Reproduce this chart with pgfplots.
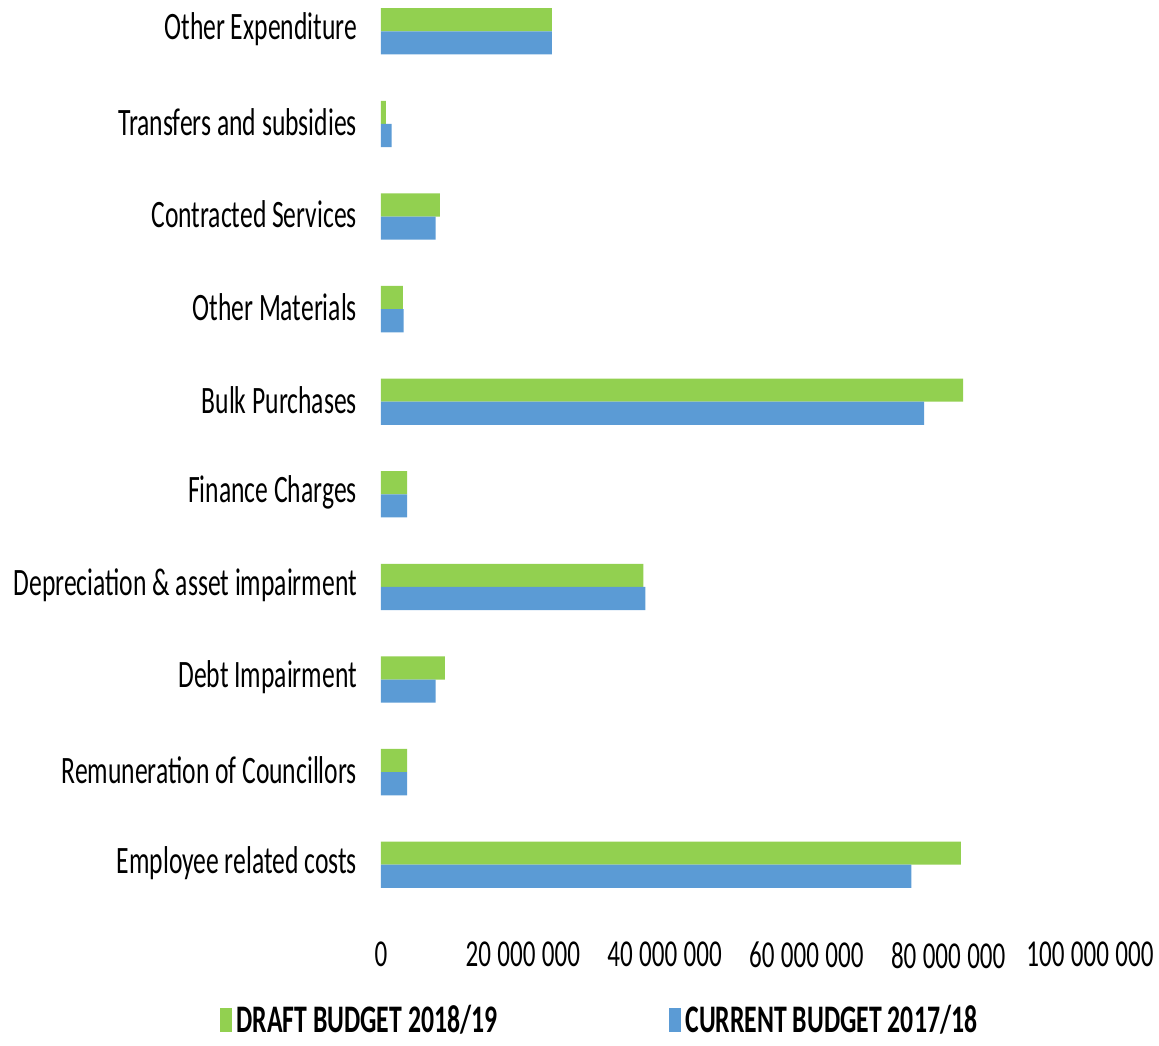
\documentclass[border=0pt]{standalone}
\usepackage{fontspec}
\setmainfont{Carlito}[FakeStretch=0.66]
\usepackage{pgfplots}
\pgfplotsset{compat=1.18}
\definecolor{draftgreen}{HTML}{92D050}
\definecolor{curblue}{HTML}{5B9BD5}
\begin{document}
\begin{tikzpicture}
\useasboundingbox (-190.5pt,-67pt) rectangle (389pt,455.5pt);
\begin{axis}[
  scale only axis, width=354.5pt, height=453.5pt,
  at={(0,0)}, anchor=south west,
  xmin=0, xmax=100000000, ymin=-0.5, ymax=9.295,
  axis line style={draw=none}, tick style={draw=none},
  xtick={0,20000000,40000000,60000000,80000000,100000000},
  scaled x ticks=false,
  /pgf/number format/fixed, /pgf/number format/precision=0,
  /pgf/number format/1000 sep={\,},
  /pgf/number format/assume math mode=true,
  x tick label style={font=\fontsize{19}{22}\selectfont, yshift=-12pt},
  ytick={0,1,2,3,4,5,6,7,8,9},
  yticklabels={Employee related costs, Remuneration of Councillors, Debt Impairment, Depreciation \& asset impairment, Finance Charges, Bulk Purchases, Other Materials, Contracted Services, Transfers and subsidies, Other Expenditure},
  y tick label style={font=\fontsize{19.4}{22}\selectfont, anchor=east, xshift=-8.5pt, yshift=1pt},
  legend columns=2,
  legend style={at={(axis description cs:-0.227,-0.120)}, anchor=west, draw=none, fill=none, inner sep=0pt,
    nodes={inner ysep=0.5pt},
    font=\fontsize{19.5}{22}\selectfont\bfseries,
    /tikz/every even column/.append style={column sep=84pt}},
  legend image code/.code={\fill[#1] (0pt,-6pt) rectangle (6pt,6pt);},
]
\addplot[xbar, bar width=0.25, bar shift=0.125, fill=draftgreen, draw=none] coordinates {
 (81800000,0) (3700000,1) (9000000,2) (37000000,3) (3700000,4) (82100000,5) (3100000,6) (8300000,7) (700000,8) (24100000,9)};
\addlegendentry{DRAFT BUDGET 2018/19}
\addplot[xbar, bar width=0.25, bar shift=-0.125, fill=curblue, draw=none] coordinates {
 (74800000,0) (3700000,1) (7700000,2) (37300000,3) (3700000,4) (76600000,5) (3200000,6) (7700000,7) (1500000,8) (24100000,9)};
\addlegendentry{CURRENT BUDGET 2017/18}
\end{axis}
\end{tikzpicture}
\end{document}
